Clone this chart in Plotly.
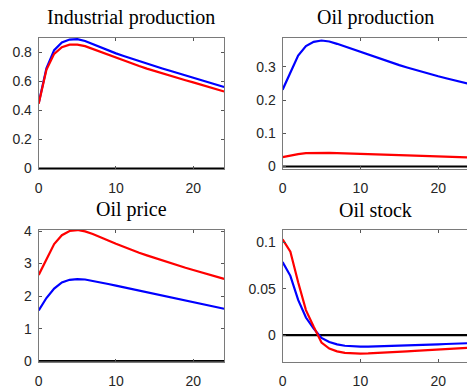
import plotly.graph_objects as go

# Horizon (months)
horizon = list(range(25))

# Impulse responses: blue and red scenarios
ip_blue = [0.451, 0.690, 0.815, 0.868, 0.888, 0.891, 0.878, 0.856, 0.833, 0.812,
           0.793, 0.775, 0.757, 0.739, 0.722, 0.705, 0.689, 0.673, 0.657, 0.642,
           0.627, 0.611, 0.595, 0.578, 0.562]
ip_red = [0.447, 0.680, 0.790, 0.836, 0.853, 0.853, 0.843, 0.823, 0.802, 0.781,
          0.761, 0.742, 0.724, 0.706, 0.688, 0.671, 0.655, 0.639, 0.623, 0.608,
          0.593, 0.578, 0.563, 0.547, 0.531]

oilprod_blue = [0.231, 0.284, 0.334, 0.362, 0.375, 0.379, 0.376, 0.369, 0.361, 0.352,
                0.343, 0.335, 0.327, 0.319, 0.312, 0.305, 0.298, 0.291, 0.2845, 0.278,
                0.2715, 0.2655, 0.2595, 0.2535, 0.248]
oilprod_red = [0.028, 0.033, 0.037, 0.040, 0.041, 0.041, 0.041, 0.040, 0.039, 0.038,
               0.0375, 0.037, 0.036, 0.0355, 0.035, 0.034, 0.0335, 0.033, 0.032, 0.031,
               0.030, 0.0295, 0.029, 0.028, 0.027]

oilprice_blue = [1.56, 1.94, 2.23, 2.42, 2.50, 2.52, 2.51, 2.47, 2.42, 2.37,
                 2.32, 2.27, 2.22, 2.17, 2.12, 2.07, 2.02, 1.97, 1.92, 1.86,
                 1.81, 1.76, 1.71, 1.66, 1.61]
oilprice_red = [2.65, 3.15, 3.60, 3.87, 4.00, 4.03, 3.99, 3.91, 3.82, 3.71,
                3.61, 3.51, 3.42, 3.33, 3.25, 3.17, 3.09, 3.01, 2.94, 2.87,
                2.80, 2.73, 2.66, 2.59, 2.53]

oilstock_blue = [0.079, 0.064, 0.038, 0.019, 0.007, -0.003, -0.0075, -0.0100, -0.0115, -0.0122,
                 -0.0125, -0.0124, -0.0122, -0.0120, -0.0117, -0.0114, -0.0111, -0.0108, -0.0105, -0.0102,
                 -0.0099, -0.0096, -0.0093, -0.0090, -0.0087]
oilstock_red = [0.1035, 0.090, 0.057, 0.027, 0.009, -0.008, -0.0145, -0.0175, -0.0192, -0.0198,
                -0.0199, -0.0197, -0.0194, -0.0190, -0.0186, -0.0181, -0.0176, -0.0171, -0.0166, -0.0161,
                -0.0156, -0.0151, -0.0146, -0.0141, -0.0136]

zero_line = [0.0] * len(horizon)

titles = ["Industrial production", "Oil production", "Oil price", "Oil stock"]
panels = [(ip_blue, ip_red), (oilprod_blue, oilprod_red),
          (oilprice_blue, oilprice_red), (oilstock_blue, oilstock_red)]
y_ranges = [[-0.003, 0.9], [-0.0075, 0.387], [-0.02, 4.04], [-0.0288, 0.1138]]
y_ticks = [[0, 0.2, 0.4, 0.6, 0.8], [0, 0.1, 0.2, 0.3], [0, 1, 2, 3, 4], [0, 0.05, 0.1]]
x_ticks = [0, 10, 20]

W, H = 467, 390
x_domains = [[35 / W, 222 / W], [281 / W, 1.0]]
y_domains = [[1 - 168 / H, 1 - 32 / H], [1 - 368 / H, 1 - 231 / H]]
x_ranges = [[0, 24], [0, 23.7]]
title_x = [(35 + 222) / 2 / W, (281 + 469) / 2 / W]

fig = go.Figure()
axis_color = "#7a7a7a"
tick_font = dict(family="Liberation Sans", size=14, color="#262626")
title_font = dict(family="Liberation Serif", size=20, color="black")

for i, (blue, red) in enumerate(panels):
    row, col = divmod(i, 2)
    n = "" if i == 0 else str(i + 1)
    xa, ya = "x" + n, "y" + n
    fig.add_trace(go.Scatter(x=horizon, y=zero_line, mode="lines",
                             line=dict(color="black", width=2.2), xaxis=xa, yaxis=ya,
                             showlegend=False, hoverinfo="skip"))
    fig.add_trace(go.Scatter(x=horizon, y=blue, mode="lines",
                             line=dict(color="#0000ff", width=2.2), xaxis=xa, yaxis=ya,
                             showlegend=False))
    fig.add_trace(go.Scatter(x=horizon, y=red, mode="lines",
                             line=dict(color="#ff0000", width=2.2), xaxis=xa, yaxis=ya,
                             showlegend=False))
    common = dict(showline=True, linecolor=axis_color, linewidth=1, ticks="inside",
                  ticklen=3, tickcolor="#555555", tickwidth=1, showgrid=False,
                  zeroline=False, tickfont=tick_font)
    fig.layout["xaxis" + n] = dict(domain=x_domains[col], range=x_ranges[col],
                                   anchor=ya, tickvals=x_ticks, mirror="ticks",
                                   ticklabelstandoff=6, **common)
    fig.layout["yaxis" + n] = dict(domain=y_domains[row], range=y_ranges[i],
                                   anchor=xa, tickvals=y_ticks[i],
                                   mirror="ticks" if col == 0 else False,
                                   ticklabelstandoff=3, **common)
    fig.add_annotation(text=titles[i], xref="paper", yref="paper",
                       x=title_x[col], y=y_domains[row][1],
                       xanchor="center", yanchor="bottom", yshift=7,
                       showarrow=False, font=title_font)

fig.update_layout(width=W, height=H, margin=dict(l=0, r=0, t=0, b=0),
                  paper_bgcolor="white", plot_bgcolor="white")

fig.write_html("out.html")
